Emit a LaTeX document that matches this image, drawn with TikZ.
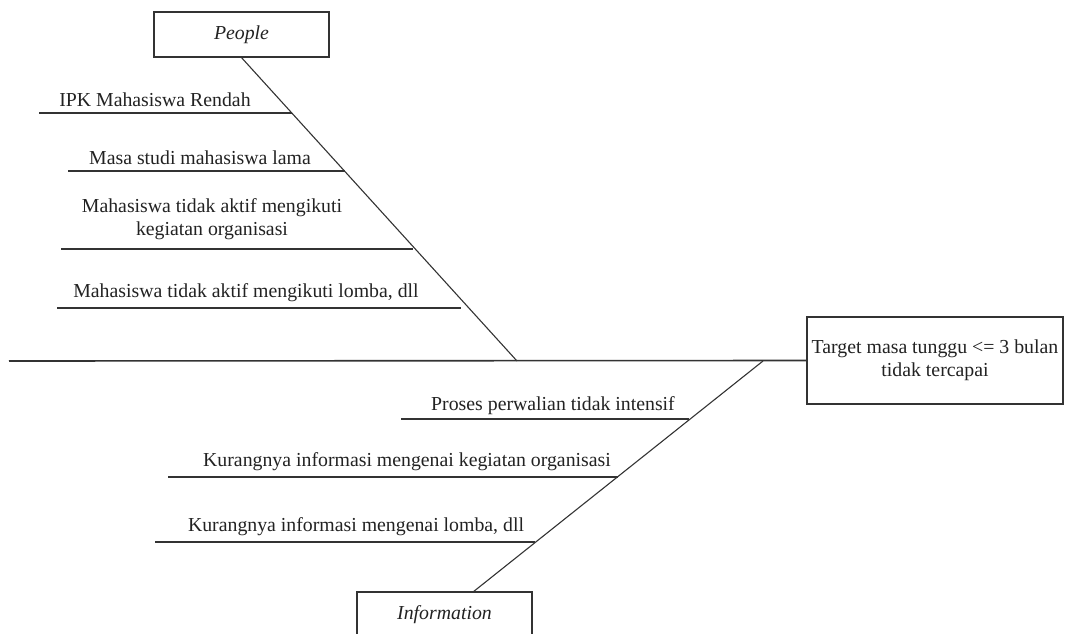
\documentclass[tikz,border=0pt]{standalone}
\usepackage{fontspec}
\setmainfont{Liberation Serif}
\usepackage{xcolor}
\usepackage{tikz}
\usetikzlibrary{positioning, calc}

\definecolor{inkline}{HTML}{333333}
\definecolor{inktext}{HTML}{222222}

\tikzset{
  catbox/.style={draw=inkline, line width=1.2pt, minimum width=175pt, minimum height=45pt,
    inner sep=0pt, font=\fontsize{19.8}{23}\selectfont\itshape, text=inktext},
  effectbox/.style={draw=inkline, line width=1.2pt, minimum width=256pt, minimum height=87pt,
    inner sep=1pt, align=center, font=\fontsize{19.8}{23}\selectfont, text=inktext},
  causetext/.style={inner sep=0pt, align=center, font=\fontsize{19.8}{23}\selectfont, text=inktext},
  bone/.style={draw=inkline, line width=1.1pt},
  spine/.style={draw=inkline, line width=1.6pt}
}

\begin{document}
\begin{tikzpicture}[x=1pt, y=-1pt]
        \useasboundingbox (0,0) rectangle (1065,634);

        % Categories and effect
        \node[catbox] (people) at (241.5,34.5) {People};
        \node[catbox] (info) at (444.5,614.5) {Information};
        \node[effectbox] (effect) at (935,360.5) {Target masa tunggu <= 3 bulan\\tidak tercapai};

        % Main spine
        \coordinate (tail) at (9,361);
        \coordinate (jPeople) at (517,361);
        \coordinate (jInfo) at (763,361);
        \coordinate (infoTop) at (473,592);
        \draw[spine] (tail) -- (effect.west);
        \draw[bone] (people.south) -- (jPeople);
        \draw[bone] (jInfo) -- (infoTop);

        % People causes
        \node[causetext] (p1) at (155,100) {IPK Mahasiswa Rendah};
        \coordinate (p1a) at (39,113);
        \coordinate (p1b) at (292,113);
        \draw[bone] (p1a) -- (p1b);

        \node[causetext] (p2) at (200,158) {Masa studi mahasiswa lama};
        \coordinate (p2a) at (68,171);
        \coordinate (p2b) at (345,171);
        \draw[bone] (p2a) -- (p2b);

        \node[causetext] (p3) at (212,219) {Mahasiswa tidak aktif mengikuti\\kegiatan organisasi};
        \coordinate (p3a) at (61,249);
        \coordinate (p3b) at (413,249);
        \draw[bone] (p3a) -- (p3b);

        \node[causetext] (p4) at (246,293) {Mahasiswa tidak aktif mengikuti lomba, dll};
        \coordinate (p4a) at (57,308);
        \coordinate (p4b) at (461,308);
        \draw[bone] (p4a) -- (p4b);

        % Information causes
        \node[causetext] (i1) at (553,406) {Proses perwalian tidak intensif};
        \coordinate (i1a) at (401,419);
        \coordinate (i1b) at (689,419);
        \draw[bone] (i1a) -- (i1b);

        \node[causetext] (i2) at (407,462) {Kurangnya informasi mengenai kegiatan organisasi};
        \coordinate (i2a) at (168,477);
        \coordinate (i2b) at (618,477);
        \draw[bone] (i2a) -- (i2b);

        \node[causetext] (i3) at (356,527) {Kurangnya informasi mengenai lomba, dll};
        \coordinate (i3a) at (155,542);
        \coordinate (i3b) at (535,542);
        \draw[bone] (i3a) -- (i3b);
      \end{tikzpicture}
\end{document}
